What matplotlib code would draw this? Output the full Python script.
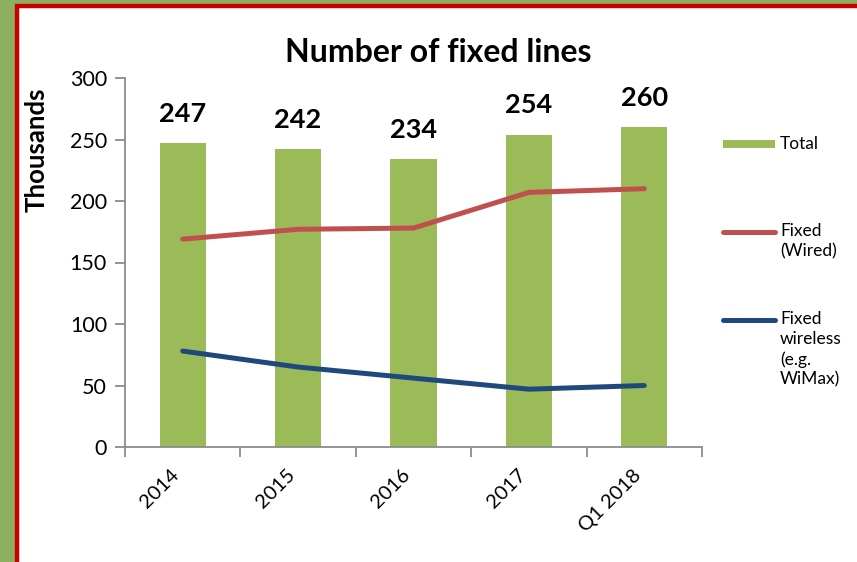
import matplotlib.pyplot as plt
from matplotlib.patches import Rectangle
from matplotlib.lines import Line2D

plt.rcParams['font.family'] = ['Lato', 'DejaVu Sans']

# Data (thousands)
categories = ["2014", "2015", "2016", "2017", "Q1 2018"]
total = [247, 242, 234, 254, 260]
fixed_wired = [169, 177, 178, 207, 210]
fixed_wireless = [78, 65, 56, 47, 50]

bar_color = "#9BBB59"
wired_color = "#C0504D"
wireless_color = "#1F497D"
axis_color = "#8C8C8C"

fig = plt.figure(figsize=(8.57, 5.62), dpi=100)
fig.patch.set_facecolor("#8BB160")

# white panel with red frame (only top and left edges visible)
W, H = 857, 562
panel = Rectangle((17 / W, -0.1), 1.0, 1.1 - 5.5 / H,
                  transform=fig.transFigure, facecolor="white",
                  edgecolor="#CC0000", linewidth=3.2, zorder=0)
fig.add_artist(panel)

ax = fig.add_axes([125 / W, 1 - 447 / H, (702 - 125) / W, (447 - 78) / H])
ax.set_facecolor("none")

x = list(range(len(categories)))
ax.bar(x, total, width=0.4, color=bar_color, zorder=2)
ax.plot(x, fixed_wired, color=wired_color, lw=3.6, solid_capstyle="round",
        solid_joinstyle="round", zorder=3)
ax.plot(x, fixed_wireless, color=wireless_color, lw=3.6, solid_capstyle="round",
        solid_joinstyle="round", zorder=3)

for xi, v in zip(x, total):
    ax.text(xi, v + 14, str(v), ha="center", va="bottom", fontsize=19.5,
            fontweight="bold")

ax.set_xlim(-0.5, len(categories) - 0.5)
ax.set_ylim(0, 300)
ax.set_yticks(range(0, 301, 50))
ax.set_xticks([i - 0.5 for i in range(len(categories) + 1)], minor=False)
ax.set_xticklabels([])
ax.set_xticks(x, minor=True)
ax.set_xticklabels(categories, minor=True, rotation=45, ha="right", va="top",
                   fontsize=14.5)
ax.tick_params(axis="x", which="minor", length=0, pad=14)
ax.tick_params(axis="x", which="major", length=7, width=1.3, color=axis_color)
ax.tick_params(axis="y", length=7, width=1.3, color=axis_color, labelsize=15.5,
               pad=6)

for side in ["top", "right"]:
    ax.spines[side].set_visible(False)
for side in ["left", "bottom"]:
    ax.spines[side].set_color(axis_color)
    ax.spines[side].set_linewidth(1.3)

fig.text(438 / W, 1 - 53 / H, "Number of fixed lines", ha="center",
         va="center", fontsize=23, fontweight="bold")
fig.text(37 / W, 1 - 150 / H, "Thousands", ha="center", va="center",
         rotation=90, fontsize=18.5, fontweight="bold")

# legend
fig.add_artist(Rectangle((723 / W, 1 - 148 / H), 52 / W, 8 / H,
                         transform=fig.transFigure, facecolor=bar_color,
                         edgecolor="none"))
fig.text(780 / W, 1 - 144 / H, "Total", ha="left", va="center", fontsize=12.5)

fig.add_artist(Line2D([723 / W, 775 / W], [1 - 232 / H, 1 - 232 / H],
                      transform=fig.transFigure, color=wired_color, lw=3.6,
                      solid_capstyle="round"))
fig.text(780 / W, 1 - 223 / H, "Fixed\n(Wired)", ha="left", va="top",
         fontsize=12.5, linespacing=1.3)

fig.add_artist(Line2D([723 / W, 775 / W], [1 - 320 / H, 1 - 320 / H],
                      transform=fig.transFigure, color=wireless_color, lw=3.6,
                      solid_capstyle="round"))
fig.text(780 / W, 1 - 311 / H, "Fixed\nwireless\n(e.g.\nWiMax)", ha="left",
         va="top", fontsize=12.5, linespacing=1.3)

fig.savefig("out.png", dpi=100, facecolor=fig.get_facecolor())
